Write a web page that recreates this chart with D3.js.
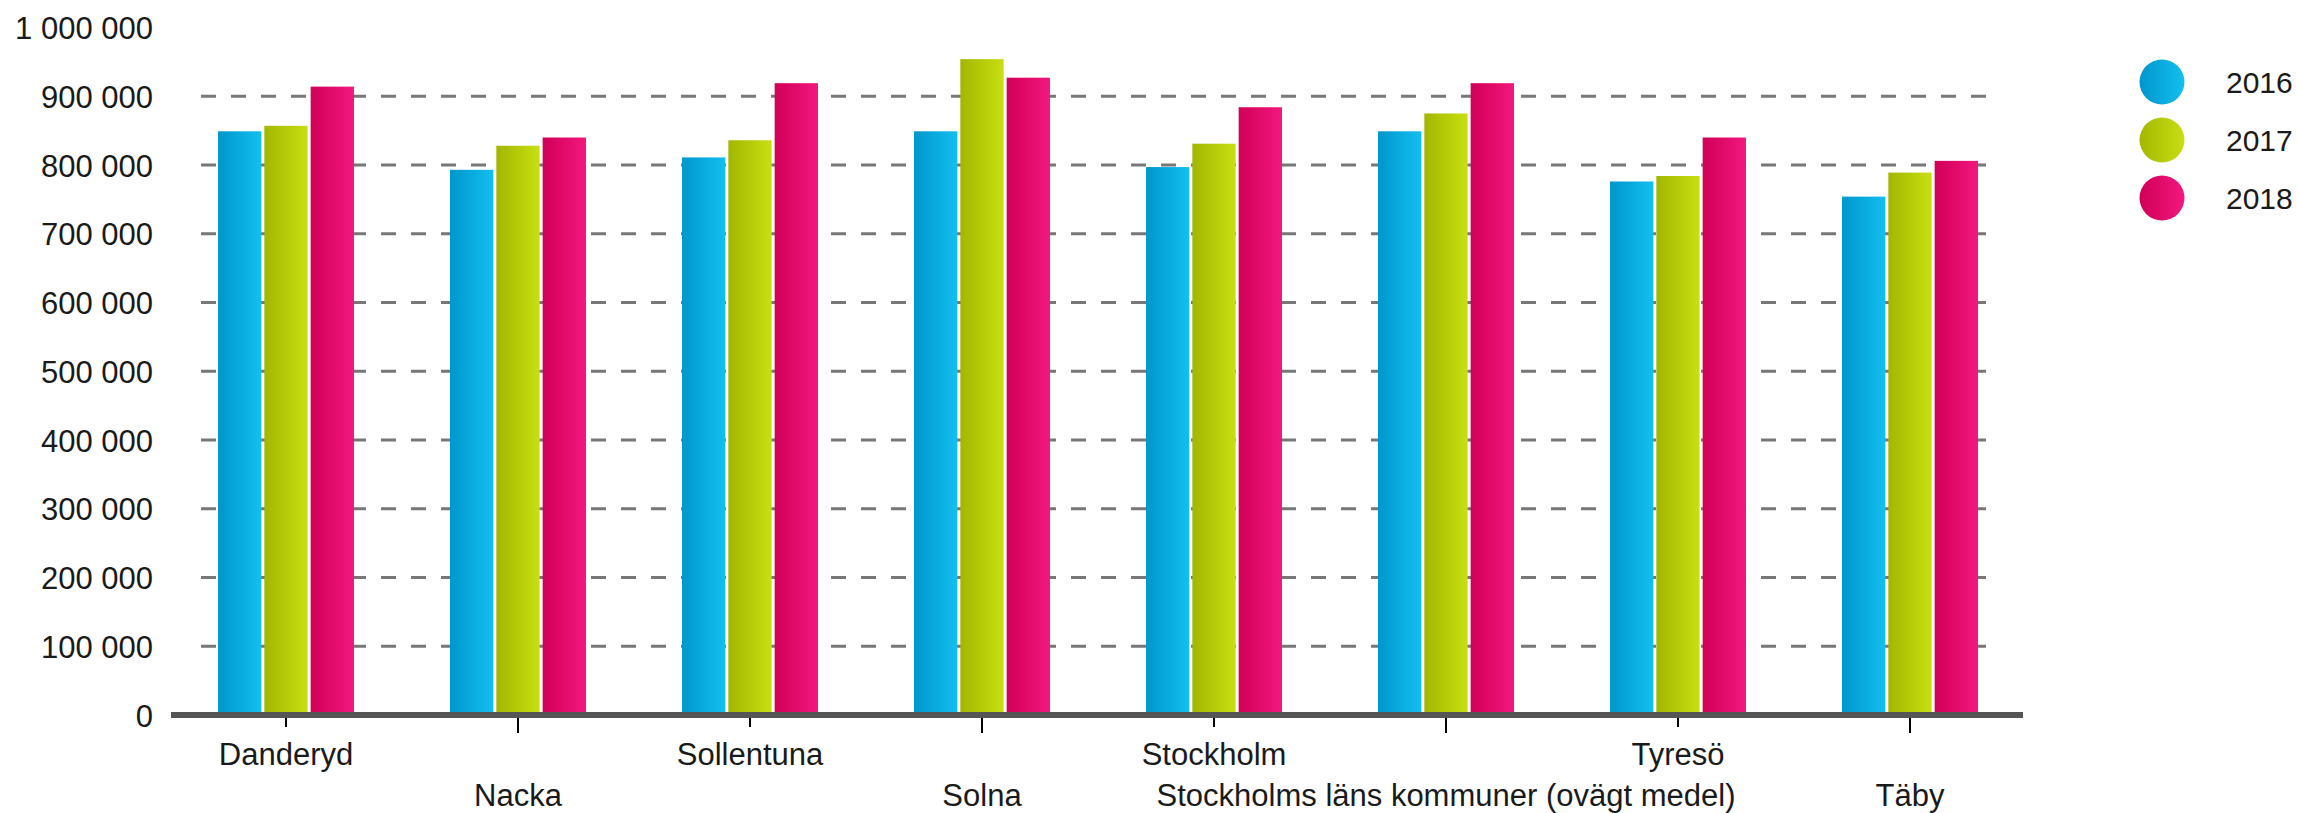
<!DOCTYPE html>
<html>
<head>
<meta charset="utf-8">
<script src="https://cdn.jsdelivr.net/npm/d3@7"></script>
<style>
  html, body { margin: 0; padding: 0; background: #fff; }
  svg { display: block; font-family: "Liberation Sans", Arial, sans-serif; }
</style>
</head>
<body>
<div id="chart"></div>
<script>
const WIDTH = 2297;
const HEIGHT = 813;

const categories = ["Danderyd", "Nacka", "Sollentuna", "Solna", "Stockholm",
    "Stockholms läns kommuner (ovägt medel)", "Tyresö", "Täby"];
const years = ["2016", "2017", "2018"];
const values2016 = [849000, 793000, 811000, 849000, 797000, 849000, 776000, 754000];
const values2017 = [857000, 828000, 836000, 954000, 831000, 875000, 784000, 789000];
const values2018 = [914000, 840000, 919000, 927000, 884000, 919000, 840000, 806000];
const yTicks = [0, 100000, 200000, 300000, 400000, 500000, 600000, 700000, 800000, 900000, 1000000];

// left colour -> right colour of each series gradient
const seriesColors = [["#0096cc", "#13bff0"], ["#a2b700", "#c9df12"], ["#d00057", "#f3177e"]];

const series = [values2016, values2017, values2018];

const sv = d3.formatLocale({ decimal: ",", thousands: " ", grouping: [3], currency: ["", ""] });
const fmt = sv.format(",");

const svg = d3.select("#chart").append("svg")
    .attr("width", WIDTH)
    .attr("height", HEIGHT);

const defs = svg.append("defs");
seriesColors.forEach((c, i) => {
    const g = defs.append("linearGradient")
        .attr("id", "grad" + i)
        .attr("x1", "0%").attr("x2", "100%")
        .attr("y1", "0%").attr("y2", "0%");
    g.append("stop").attr("offset", "0%").attr("stop-color", c[0]);
    g.append("stop").attr("offset", "100%").attr("stop-color", c[1]);
});

const x0 = d3.scaleBand()
    .domain(categories)
    .range([170, 2026])
    .paddingInner(0.414)
    .paddingOuter(0.207);

const x1 = d3.scaleBand()
    .domain(years)
    .range([0, x0.bandwidth()])
    .paddingInner(0.065);

const y = d3.scaleLinear()
    .domain([0, 1000000])
    .range([715, 27.5]);

// dashed grid lines
svg.append("g")
    .selectAll("line")
    .data(yTicks.filter(t => t > 0 && t < 1000000))
    .enter()
    .append("line")
    .attr("x1", 201)
    .attr("x2", 1995)
    .attr("y1", d => y(d))
    .attr("y2", d => y(d))
    .attr("stroke", "#777")
    .attr("stroke-width", 3)
    .attr("stroke-dasharray", "15,15");

// y labels
const yAxis = svg.append("g")
    .attr("transform", "translate(153,0)")
    .call(d3.axisLeft(y).tickValues(yTicks).tickSize(0).tickPadding(0).tickFormat(fmt));
yAxis.select(".domain").remove();
yAxis.selectAll("text")
    .attr("font-size", 31)
    .attr("font-family", "Liberation Sans, Arial, sans-serif")
    .attr("fill", "#1a1a1a")
    .attr("dy", "0.36em");

// bars
const groups = svg.append("g")
    .selectAll("g")
    .data(categories)
    .enter()
    .append("g")
    .attr("transform", d => "translate(" + x0(d) + ",0)");

groups.selectAll("rect")
    .data((d, ci) => years.map((yr, si) => ({ year: yr, si: si, value: series[si][ci] })))
    .enter()
    .append("rect")
    .attr("x", d => x1(d.year))
    .attr("width", x1.bandwidth())
    .attr("y", d => y(d.value))
    .attr("height", d => y(0) - y(d.value))
    .attr("fill", d => "url(#grad" + d.si + ")");

// x axis line
svg.append("rect")
    .attr("x", 171)
    .attr("y", y(0) - 3)
    .attr("width", 2023 - 171)
    .attr("height", 6)
    .attr("fill", "#555");

// x axis ticks and staggered labels
const xAxis = svg.append("g")
    .attr("transform", "translate(0," + (y(0) + 3) + ")")
    .call(d3.axisBottom(x0).tickSize(0));
xAxis.select(".domain").remove();
xAxis.selectAll(".tick line")
    .attr("stroke", "#000")
    .attr("stroke-width", 2)
    .attr("y2", (d, i) => i % 2 === 0 ? 9 : 15);
xAxis.selectAll(".tick text")
    .attr("font-size", 31)
    .attr("font-family", "Liberation Sans, Arial, sans-serif")
    .attr("fill", "#1a1a1a")
    .attr("dy", null)
    .attr("y", (d, i) => i % 2 === 0 ? 47 : 88);

// legend
const legend = svg.append("g")
    .selectAll("g")
    .data(years)
    .enter()
    .append("g")
    .attr("transform", (d, i) => "translate(2162," + (82 + i * 58) + ")");

legend.append("circle")
    .attr("r", 22.5)
    .attr("fill", (d, i) => "url(#grad" + i + ")");

legend.append("text")
    .attr("x", 64)
    .attr("dy", "0.36em")
    .attr("font-size", 30)
    .attr("fill", "#1a1a1a")
    .text(d => d);
</script>
</body>
</html>
